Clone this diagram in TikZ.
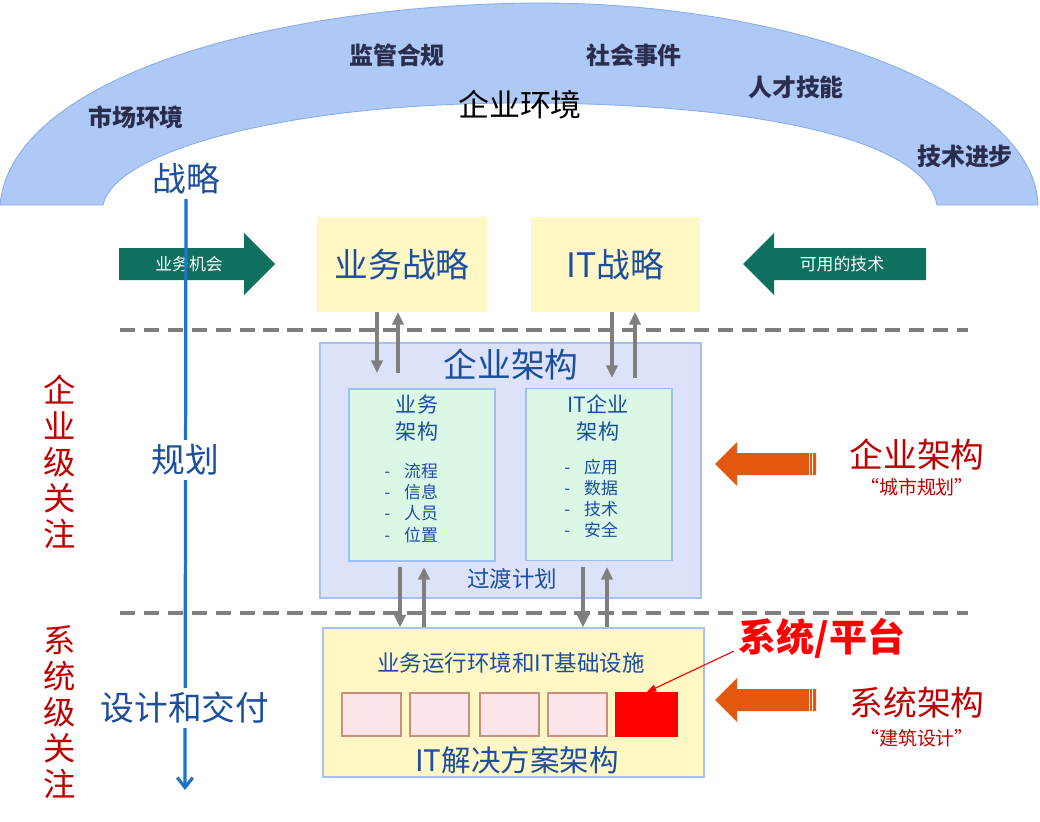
\documentclass[tikz,border=0pt]{standalone}
\usepackage{fontspec}
\setmainfont{Noto Sans CJK SC}
\usetikzlibrary{arrows.meta}
\definecolor{arcfill}{HTML}{AEC9F5}
\definecolor{arcline}{HTML}{86ACEC}
\definecolor{arctext}{HTML}{2A2D4E}
\definecolor{txtblue}{HTML}{1B4E9E}
\definecolor{flowblue}{HTML}{1C75C9}
\definecolor{boxyellow}{HTML}{FFF8C4}
\definecolor{lavfill}{HTML}{DCE2FA}
\definecolor{lavline}{HTML}{A9C1F2}
\definecolor{mintfill}{HTML}{DBF7E6}
\definecolor{mintline}{HTML}{9CC0F0}
\definecolor{bizgreen}{HTML}{0E705E}
\definecolor{orng}{HTML}{E2580F}
\definecolor{darkred}{HTML}{C00000}
\definecolor{arrgray}{HTML}{7F7F7F}
\definecolor{pinkfill}{HTML}{FDE6EA}
\definecolor{pinkline}{HTML}{C8907E}

\begin{document}
\begin{tikzpicture}[x=0.025cm, y=-0.025cm,
    envtxt/.style={font=\bfseries\fontsize{17}{20}\selectfont, text=arctext},
    flowtxt/.style={font=\fontsize{24}{28}\selectfont, text=txtblue, fill=white, inner sep=3pt},
    ybox/.style={fill=boxyellow, inner sep=0pt, outer sep=0pt, minimum height=2.375cm,
        font=\fontsize{24}{28}\selectfont, text=txtblue},
    abox/.style={draw=mintline, fill=mintfill, line width=0.8pt, minimum width=3.65cm,
        minimum height=4.3cm, inner sep=0pt},
    atitle/.style={font=\fontsize{15}{19}\selectfont, text=txtblue, align=center},
    alist/.style={font=\fontsize{12}{15}\selectfont, text=txtblue, align=left, inner sep=0pt, anchor=west},
    garrow/.style={-{Triangle[length=9pt,width=8pt]}, line width=2.4pt, draw=arrgray},
    sepline/.style={draw=arrgray, line width=2.8pt, dash pattern=on 11pt off 6pt},
    sbox/.style={fill=pinkfill, draw=pinkline, line width=1pt, minimum width=1.475cm,
        minimum height=1.075cm, inner sep=0pt},
    focus/.style={font=\fontsize{23}{25.6}\selectfont, text=darkred, align=center},
    note/.style={font=\fontsize{24}{28}\selectfont, text=darkred},
    quote/.style={font=\fontsize{13.5}{16}\selectfont, text=darkred}
]
    % Sfondo
    \fill[white] (0,0) rectangle (1040,822);
    \useasboundingbox (0,0) rectangle (1040,822);

    % Arco ambiente
    \filldraw[fill=arcfill, draw=arcline, line width=0.6pt]
        (0,205) .. controls (12,75) and (280,4) .. (540,3)
        .. controls (800,3) and (1035,95) .. (1038,205) -- (937,205)
        .. controls (925,140) and (760,103) .. (520,103)
        .. controls (290,103) and (115,150) .. (103,205) -- cycle;
    \node[envtxt] (mkt) at (136,117) {市场环境};
    \node[envtxt] (reg) at (397,55) {监管合规};
    \node[envtxt] (soc) at (634,55) {社会事件};
    \node[envtxt] (tal) at (796,87) {人才技能};
    \node[envtxt] (adv) at (965,156) {技术进步};
    \node[font=\fontsize{22}{26}\selectfont] (env) at (520,105) {企业环境};

    % Linee tratteggiate
    \coordinate (sepA1) at (120,330);
    \coordinate (sepA2) at (968,330);
    \coordinate (sepB1) at (120,613);
    \coordinate (sepB2) at (968,613);
    \draw[sepline] (sepA1) -- (sepA2);
    \draw[sepline] (sepB1) -- (sepB2);

    % Frecce verdi
    \fill[bizgreen] (119,248) -- (244,248) -- (244,233) -- (275,264) -- (244,295) -- (244,280) -- (119,280) -- cycle;
    \node[font=\fontsize{12}{14}\selectfont, text=white] (opp) at (189,264) {业务机会};
    \fill[bizgreen] (926,248) -- (774,248) -- (774,233) -- (743,264) -- (774,295) -- (774,280) -- (926,280) -- cycle;
    \node[font=\fontsize{12}{14}\selectfont, text=white] (tech) at (842,264) {可用的技术};

    % Flusso verticale
    \node[flowtxt, fill=none] (strat) at (186,179) {战略};
    \coordinate (flowEnd) at (185,790);
    \draw[-{Straight Barb[length=7pt,width=11pt]}, line width=2.3pt, flowblue] (strat.south) -- (flowEnd);
    \node[flowtxt] (plan) at (185,460) {规划};
    \node[flowtxt] (deliv) at (185,708) {设计和交付};

    % Strategie
    \node[ybox, minimum width=4.25cm] (bizStrat) at (402,264.5) {业务战略};
    \node[ybox, minimum width=4.225cm] (itStrat) at (615.5,264.5) {IT战略};

    % Architettura d'impresa
    \node[draw=lavline, fill=lavfill, line width=0.8pt, minimum width=9.525cm, minimum height=6.375cm,
        inner sep=0pt] (eaBox) at (510.5,470.5) {};
    \node[font=\fontsize{24}{28}\selectfont, text=txtblue] (eaTitle) at (511,365) {企业架构};
    \node[abox] (bizArch) at (422,475) {};
    \node[abox] (itArch) at (599,474.5) {};
    \node[atitle] (bizArchT) at (417,418) {业务\\架构};
    \node[atitle] (itArchT) at (598,418) {IT企业\\架构};
    \node[alist] (bizList) at (384,503) {-\hspace{10pt}流程\\-\hspace{10pt}信息\\-\hspace{10pt}人员\\-\hspace{10pt}位置};
    \node[alist] (itList) at (564,498.5) {-\hspace{10pt}应用\\-\hspace{10pt}数据\\-\hspace{10pt}技术\\-\hspace{10pt}安全};
    \node[font=\fontsize{16}{19}\selectfont, text=txtblue, fill=lavfill, inner sep=2pt] (trans) at (512,579) {过渡计划};

    % Soluzioni IT
    \node[draw=lavline, fill=boxyellow, line width=0.8pt, minimum width=9.525cm, minimum height=3.725cm,
        inner sep=0pt] (sysBox) at (513.5,702.5) {};
    \node[font=\fontsize{16}{19}\selectfont, text=txtblue] (infra) at (511,663) {业务运行环境和IT基础设施};
    \foreach \i/\x in {1/371.5, 2/439.5, 3/509.5, 4/577.5}
        \node[sbox] (sb\i) at (\x,714.5) {};
    \node[sbox, fill=red, draw=red, minimum width=1.525cm] (sb5) at (646.5,714.5) {};
    \node[font=\fontsize{21}{25}\selectfont, text=txtblue] (itSol) at (517,760) {IT解决方案架构};

    % Frecce grigie
    \coordinate (u1) at (377,373);
    \coordinate (u2) at (398,373);
    \coordinate (u3) at (612,378);
    \coordinate (u4) at (635,378);
    \draw[garrow] (bizStrat.south -| u1) -- (u1);
    \draw[garrow] (u2) -- (bizStrat.south -| u2);
    \draw[garrow] (itStrat.south -| u3) -- (u3);
    \draw[garrow] (u4) -- (itStrat.south -| u4);
    \coordinate (d1) at (400,567);
    \coordinate (d2) at (424,567);
    \coordinate (d3) at (583,567);
    \coordinate (d4) at (607,567);
    \draw[garrow] (d1) -- (sysBox.north -| d1);
    \draw[garrow] (sysBox.north -| d2) -- (d2);
    \draw[garrow] (d3) -- (sysBox.north -| d3);
    \draw[garrow] (sysBox.north -| d4) -- (d4);

    % Sistema / piattaforma
    \node[font=\bfseries\fontsize{27}{32}\selectfont, text=red] (plat) at (822,638) {系统/平台};
    \draw[red, line width=0.8pt, -{Triangle[length=7pt,width=5pt]}] ([yshift=0.3cm]plat.south west) -- (sb5.north);

    % Frecce arancioni
    \fill[orng] (715,464) -- (737,442) -- (737,453) -- (816,453) -- (816,475) -- (737,475) -- (737,486) -- cycle;
    \draw[white, line width=0.6pt] (809,453) -- (809,475) (812.5,453) -- (812.5,475);
    \fill[orng] (715,700) -- (737,678) -- (737,689) -- (816,689) -- (816,711) -- (737,711) -- (737,722) -- cycle;
    \draw[white, line width=0.6pt] (809,689) -- (809,711) (812.5,689) -- (812.5,711);

    % Note a destra
    \node[note] (eaNote) at (917,455) {企业架构};
    \node[quote] (eaQuote) at (917,487) {“城市规划”};
    \node[note] (saNote) at (917,703) {系统架构};
    \node[quote] (saQuote) at (917,738) {“建筑设计”};

    % Livelli
    \node[focus] (entFocus) at (60,462) {企\\业\\级\\关\\注};
    \node[focus] (sysFocus) at (60,712) {系\\统\\级\\关\\注};
\end{tikzpicture}
\end{document}
